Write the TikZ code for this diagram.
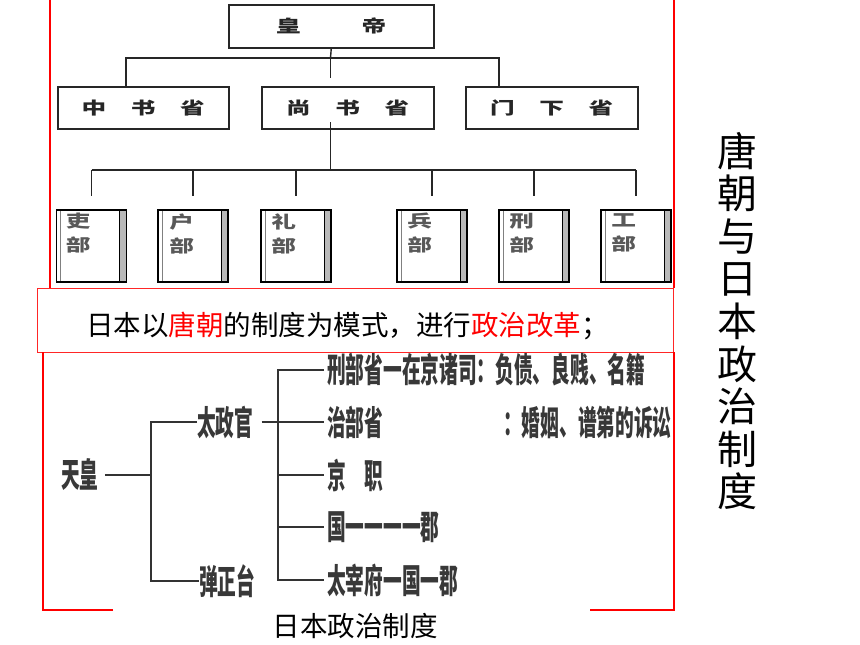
\documentclass[tikz,border=0pt]{standalone}
\usepackage{fontspec}
\usepackage{graphicx}
\setmainfont{Noto Sans CJK SC}
\usetikzlibrary{calc}
\newcommand{\topw}[1]{\scalebox{1.45}[1]{#1}}
\newcommand{\condn}[1]{\scalebox{0.55}[1]{#1}}
\tikzset{
  conn/.style={line width=1.4pt, draw=black!85},
  lconn/.style={line width=1.8pt, draw=black!80},
  topbox/.style={draw=black!85, line width=1.5pt, fill=white, minimum height=42pt, inner sep=0pt, anchor=north west, font=\fontsize{17}{17}\selectfont\bfseries, text=black!85},
  book/.style={draw=black, line width=1.6pt, fill=white, minimum width=70pt, minimum height=72pt, inner sep=0pt,
    path picture={
      \fill[gray!55] ([xshift=-7pt]path picture bounding box.north east) rectangle (path picture bounding box.south east);
      \draw[line width=1pt] ([xshift=-7pt]path picture bounding box.north east) -- ([xshift=-7pt]path picture bounding box.south east);
      \draw[line width=0.8pt, gray] ([xshift=4pt]path picture bounding box.north west) -- ([xshift=4pt]path picture bounding box.south west);
    }},
  booktext/.style={anchor=north west, inner sep=0pt, align=left, text=black!65, font=\fontsize{17}{24}\selectfont\bfseries},
  jp/.style={font=\fontsize{34}{34}\selectfont\bfseries, text=black!78, inner sep=0pt, anchor=west},
  redline/.style={draw=red, line width=1.2pt},
}
\begin{document}
\begin{tikzpicture}[x=1pt,y=-1pt]
\useasboundingbox (0,0) rectangle (860,645);
% ---------- Tang chart ----------
\draw[redline] (50,0) -- (50,288);
\draw[redline] (674,0) -- (674,288);
\node[topbox, minimum width=205pt, minimum height=43pt] (hd) at (228,4) {\topw{皇\hspace{42pt}帝}};
\node[topbox, minimum width=171pt] (zsx) at (57,86) {\topw{中\hspace{17pt}书\hspace{17pt}省}\hspace{25pt}};
\node[topbox, minimum width=172pt] (sss) at (261,86) {\topw{尚\hspace{17pt}书\hspace{17pt}省}\hspace{23pt}};
\node[topbox, minimum width=172pt] (mxs) at (465,86) {\topw{门\hspace{17pt}下\hspace{17pt}省}\hspace{24pt}};
\coordinate (busL) at (126,58);
\coordinate (busR) at (499,58);
\coordinate (busM) at (330.5,58);
\coordinate (ssTop) at (330.5,78);
\draw[conn] (hd.south) -- (busM);
\draw[conn] (zsx.north -| busL) -- (busL) -- (busR) -- (mxs.north -| busR);
\draw[conn] (busM) -- (ssTop);
\coordinate (ssIn) at (330.5,122);
\coordinate (bus2M) at (330.5,170);
\draw[conn] (ssIn) -- (bus2M);
\node[book] (b1) at (91.5,246) {};
\node[book] (b2) at (193,246) {};
\node[book] (b3) at (296,246) {};
\node[book] (b4) at (432,246) {};
\node[book] (b5) at (534,246) {};
\node[book] (b6) at (636,246) {};
\coordinate (bus2L) at (91.5,170);
\coordinate (bus2R) at (636,170);
\draw[conn] (bus2L) -- (bus2R);
\foreach \b in {b1,b2,b3,b4,b5,b6} \draw[conn] (\b.north |- bus2L) -- ($(\b.north)+(0,-13)$);
\node[booktext] (t1) at ($(b1.north west)+(10,4)$) {\topw{吏}\\\topw{部}};
\node[booktext] (t2) at ($(b2.north west)+(12,4)$) {\topw{户}\\\topw{部}};
\node[booktext] (t3) at ($(b3.north west)+(11,4)$) {\topw{礼}\\\topw{部}};
\node[booktext] (t4) at ($(b4.north west)+(11,4)$) {\topw{兵}\\\topw{部}};
\node[booktext] (t5) at ($(b5.north west)+(11,4)$) {\topw{刑}\\\topw{部}};
\node[booktext] (t6) at ($(b6.north west)+(11,4)$) {\topw{工}\\\topw{部}};
% ---------- sentence box ----------
\node[draw=red!85, line width=1.2pt, fill=white, minimum width=636pt, minimum height=64pt, anchor=north west, inner sep=0pt] (tbox) at (37,288) {};
\node[inner sep=0pt, anchor=west, font=\fontsize{27.5}{27.5}\selectfont] (sent) at (86,326) {日本以\textcolor{red}{唐朝}的制度为模式，进行\textcolor{red}{政治改革}；};
% ---------- Japan chart ----------
\draw[redline] (113,610) -- (43,610) -- (43,352);
\draw[redline] (590,610) -- (674,610) -- (674,352);
\node[jp] (th) at (61,475) {\condn{天皇}};
\node[jp] (tzg) at (197,422) {\condn{太政官}};
\node[jp] (dzt) at (199,581) {\condn{弹正台}};
\node[jp] (n1) at (327,370) {\condn{刑部省一在京诸司：负债、良贱、名籍}};
\node[jp] (n2) at (327,422) {\condn{治部省}};
\node[jp] (n2b) at (503,422) {\condn{：婚姻、谱第的诉讼}};
\node[jp] (n3) at (327,475) {\condn{京　职}};
\node[jp] (n4) at (327,527) {\condn{国一一一一郡}};
\node[jp] (n5) at (327,580) {\condn{太宰府一国一郡}};
\coordinate (j1) at (151,475);
\coordinate (j1t) at (151,422);
\coordinate (j1b) at (151,581);
\draw[lconn] ([xshift=6pt]th.east) -- (j1);
\draw[lconn] (tzg.west) -- (j1t) -- (j1b) -- (dzt.west);
\coordinate (j2t) at (278,370);
\coordinate (j2b) at (278,580);
\draw[lconn] ([xshift=8pt]tzg.east) -- ([xshift=-3pt]n2.west);
\draw[lconn] ([xshift=-3pt]n1.west) -- (j2t) -- (j2b) -- ([xshift=-3pt]n5.west);
\draw[lconn] (j2t |- n3.west) -- ([xshift=-3pt]n3.west);
\draw[lconn] (j2t |- n4.west) -- ([xshift=-3pt]n4.west);
\node[inner sep=0pt, font=\fontsize{27.5}{27.5}\selectfont] (cap) at (355,626) {日本政治制度};
% ---------- vertical title ----------
\node[inner sep=0pt, align=center, font=\fontsize{40}{42.6}\selectfont] (title) at (737.5,321) {唐\\朝\\与\\日\\本\\政\\治\\制\\度};
\end{tikzpicture}
\end{document}
